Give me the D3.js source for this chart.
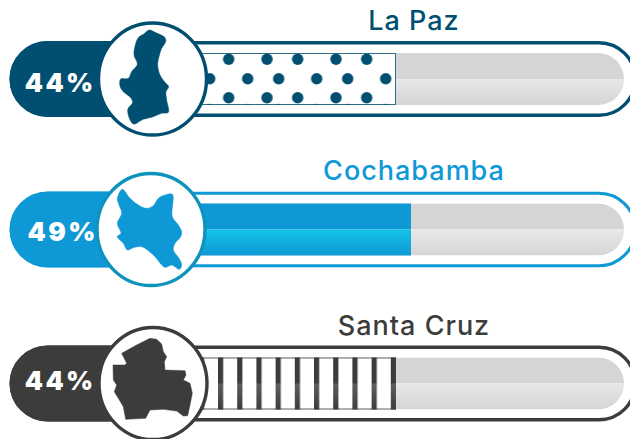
<!DOCTYPE html>
<html><head><meta charset="utf-8">
<script src="https://cdn.jsdelivr.net/npm/d3@7"></script>
<style>html,body{margin:0;padding:0;background:#fff}svg{display:block}</style>
</head><body><svg id="c" width="630" height="439"></svg>
<script>
const categories = ["La Paz", "Cochabamba", "Santa Cruz"];
const values = [44, 49, 44];
const labels = ["44%", "49%", "44%"];
const colors = ["#004f71", "#0f98d6", "#3c3c3b"];
const rings = ["#004f71", "#0e93bd", "#3c3c3b"];
const gradTop = ["#004f71", "#14c3e8", "#5e5e5e"];
const rowCentres = [79, 229.5, 383.5];
const circleXs = [152.5, 151, 153];
const labelXs = [60.2, 62.7, 60.2];
const labelBaselines = [91.7, 240.7, 389.7];
const titleBaselines = [30, 180, 335];

// traced region outlines (icon artwork, not data)
const shapeOrigins = [[110, 25], [110, 180], [105, 330]];
const shapes = [
 [[118,15],[135,22],[165,38],[167,50],[155,70],[147,95],[143,120],[150,150],[165,172],[176,185],[168,200],[170,225],[175,262],[155,265],[130,275],[100,283],[70,297],[53,255],[68,232],[62,218],[40,200],[30,183],[32,162],[55,160],[65,140],[82,118],[72,90],[76,60],[85,38],[100,28]],
 [[37,28],[60,55],[85,75],[110,85],[130,77],[145,55],[165,45],[187,43],[187,110],[205,135],[215,155],[212,170],[195,190],[190,210],[207,235],[215,255],[208,268],[185,255],[165,262],[130,225],[95,200],[70,203],[52,210],[40,190],[22,170],[33,160],[22,130],[35,100],[25,70],[22,55]],
 [[135,25],[155,28],[170,42],[175,65],[185,80],[178,95],[180,120],[240,122],[243,135],[235,150],[255,160],[262,190],[255,225],[248,257],[235,258],[215,243],[175,238],[135,240],[122,265],[62,268],[55,230],[40,205],[28,185],[35,165],[25,150],[24,105],[60,105],[65,100],[50,70],[95,45]]
];

const x = d3.scaleLinear().domain([0, 100]).range([264, 564]);
const svg = d3.select("#c");
const defs = svg.append("defs");
const TRACK_H = 52, HALF = 26, PILL = 76, SW = 3.4;

function vGrad(id, a, b) {
  const g = defs.append("linearGradient").attr("id", id).attr("x1",0).attr("y1",0).attr("x2",0).attr("y2",1);
  g.append("stop").attr("offset",0).attr("stop-color",a);
  g.append("stop").attr("offset",1).attr("stop-color",b);
}
vGrad("trackLow", "#e8e8e8", "#d5d5d5");
categories.forEach((c,i)=> vGrad("low"+i, gradTop[i], colors[i]));

// dot pattern for La Paz
const cyA = rowCentres[0];
const dotTile = defs.append("pattern").attr("id","dots").attr("patternUnits","userSpaceOnUse")
  .attr("x",209.7).attr("y",cyA-26).attr("width",69).attr("height",70);
[[19,6.3],[57.3,6.3],[19,44.7],[57.3,44.7],[0,25.7],[38,25.7],[69,25.7],[0,56.5],[38,56.5],[69,56.5]]
  .forEach(d=>dotTile.append("circle").attr("cx",d[0]).attr("cy",d[1]).attr("r",5.7).attr("fill",colors[0]));

// stripe pattern for Santa Cruz
const stripeTile = defs.append("pattern").attr("id","stripes").attr("patternUnits","userSpaceOnUse")
  .attr("x",218).attr("y",rowCentres[2]-HALF).attr("width",19.2).attr("height",TRACK_H);
stripeTile.append("rect").attr("width",5.2).attr("height",HALF).attr("fill",colors[2]);
stripeTile.append("rect").attr("y",HALF).attr("width",5.2).attr("height",HALF).attr("fill","url(#low2)");

const line = d3.line();
const closedSmooth = d3.line().curve(d3.curveCatmullRomClosed.alpha(0.5));

categories.forEach((name,i)=>{
  const cy = rowCentres[i], col = colors[i];
  const g = svg.append("g");
  const pillX = 9.5, pillR = 637;

  // outer pill
  g.append("rect").attr("x",pillX+SW/2).attr("y",cy-PILL/2+SW/2)
    .attr("width",pillR-pillX-SW).attr("height",PILL-SW)
    .attr("rx",PILL/2-SW/2).attr("fill","#fff").attr("stroke",col).attr("stroke-width",i===1?3:SW);

  // left cap
  defs.append("clipPath").attr("id","cap"+i).append("rect").attr("x",0).attr("y",cy-50).attr("width",circleXs[i]).attr("height",100);
  g.append("rect").attr("clip-path",`url(#cap${i})`).attr("x",pillX).attr("y",cy-PILL/2)
    .attr("width",pillR-pillX).attr("height",PILL).attr("rx",PILL/2).attr("fill",col);

  // track
  defs.append("clipPath").attr("id","track"+i).append("rect").attr("x",140).attr("y",cy-HALF)
    .attr("width",624-140).attr("height",TRACK_H).attr("rx",HALF);
  const t = g.append("g").attr("clip-path",`url(#track${i})`);
  t.append("rect").attr("x",140).attr("y",cy-HALF).attr("width",490).attr("height",HALF).attr("fill","#d5d5d5");
  t.append("rect").attr("x",140).attr("y",cy).attr("width",490).attr("height",HALF).attr("fill","url(#trackLow)");

  // value bar
  const x0 = 150, x1 = x(values[i]);
  if (i===0) {
    g.append("rect").attr("x",x0).attr("y",cy-HALF+.5).attr("width",x1-x0-.5).attr("height",TRACK_H-1)
      .attr("fill","#fff");
    g.append("rect").attr("x",x0).attr("y",cy-HALF+.5).attr("width",x1-x0-.5).attr("height",TRACK_H-1)
      .attr("fill","url(#dots)").attr("stroke",col).attr("stroke-opacity",.8).attr("stroke-width",1);
  } else if (i===1) {
    g.append("rect").attr("x",x0).attr("y",cy-HALF).attr("width",x1-x0).attr("height",HALF).attr("fill",col);
    g.append("rect").attr("x",x0).attr("y",cy).attr("width",x1-x0).attr("height",HALF).attr("fill","url(#low1)");
  } else {
    g.append("rect").attr("x",x0).attr("y",cy-HALF+.5).attr("width",x1-x0-.5).attr("height",TRACK_H-1)
      .attr("fill","#fff").attr("stroke",col).attr("stroke-opacity",.8).attr("stroke-width",1);
    g.append("rect").attr("x",x0).attr("y",cy-HALF).attr("width",x1-x0).attr("height",TRACK_H)
      .attr("fill","url(#stripes)");
  }

  // medallion
  g.append("ellipse").attr("cx",circleXs[i]).attr("cy",cy).attr("rx",54).attr("ry",56)
    .attr("fill","#fff").attr("stroke",rings[i]).attr("stroke-width",3.4);

  // region silhouette
  const gen = i===2 ? line : closedSmooth;
  const pts = shapes[i].map(p=>[shapeOrigins[i][0]+p[0]/3, shapeOrigins[i][1]+p[1]/3]);
  g.append("path").attr("d", gen(pts)+(i===2?"Z":"")).attr("fill",col).attr("stroke",col).attr("stroke-width",.5);

  // texts
  g.append("text").attr("x",labelXs[i]).attr("y",labelBaselines[i]).attr("text-anchor","middle")
    .attr("font-family","Inter, sans-serif").attr("font-weight",900).attr("font-size",26)
    .attr("letter-spacing",2.4).attr("fill","#fff").text(labels[i]);
  g.append("text").attr("x",414).attr("y",titleBaselines[i]).attr("text-anchor","middle")
    .attr("font-family","Inter, sans-serif").attr("font-weight",500).attr("font-size",27)
    .attr("letter-spacing",1).attr("fill",col).text(name);
});
</script></body></html>
